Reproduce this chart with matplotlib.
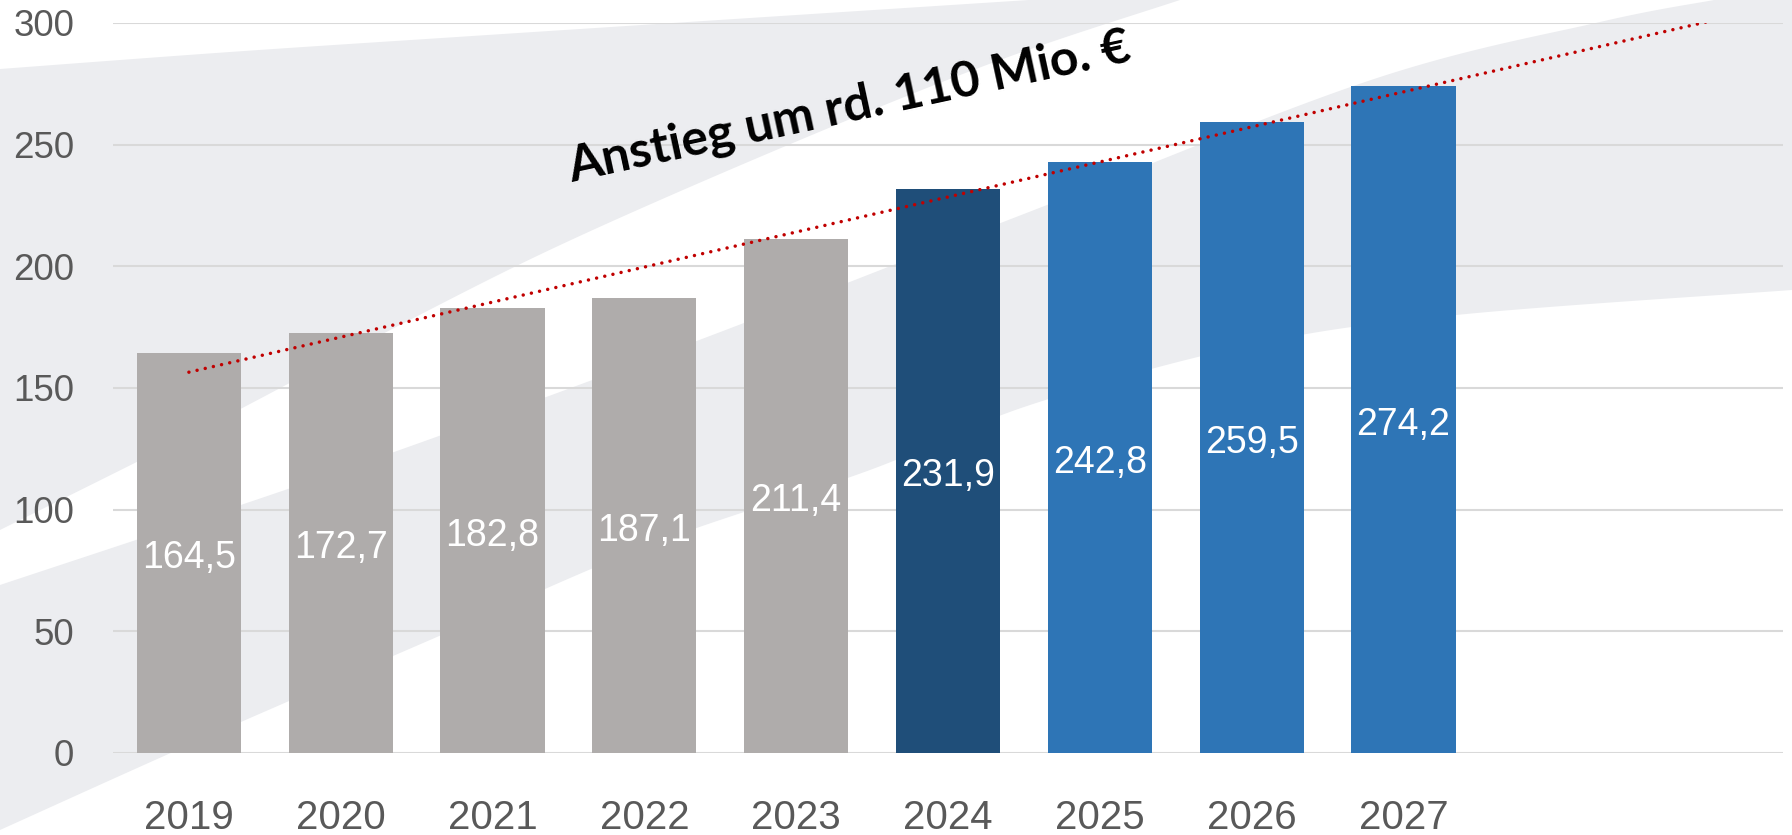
import numpy as np
import matplotlib
matplotlib.use("Agg")
import matplotlib.pyplot as plt
from matplotlib.patches import Polygon

# ---------------- data ----------------
categories = ["2019", "2020", "2021", "2022", "2023", "2024", "2025", "2026", "2027"]
values = [164.5, 172.7, 182.8, 187.1, 211.4, 231.9, 242.8, 259.5, 274.2]
value_labels = ["164,5", "172,7", "182,8", "187,1", "211,4", "231,9", "242,8", "259,5", "274,2"]
bar_colors = ["#AFACAB"] * 5 + ["#1F4E79"] + ["#2E75B6"] * 3
n_slots = 11                      # axis has room for two more (empty) categories
trend_pos = [0, 10]               # trend line runs from first bar to end of axis
trend_vals = [156.5, 300.5]       # linear trend
yticks = [0, 50, 100, 150, 200, 250, 300]
annotation = "Anstieg um rd. 110 Mio. €"

plt.rcParams["font.family"] = ["Liberation Sans", "DejaVu Sans"]

W, H = 1792, 835
fig = plt.figure(figsize=(W / 100, H / 100), dpi=100)
fig.patch.set_facecolor("white")

# ---------------- decorative background ----------------
bg = fig.add_axes([0, 0, 1, 1], zorder=0)
bg.set_xlim(0, W)
bg.set_ylim(H, 0)
bg.axis("off")

def smooth(pts, n=20):
    pts = np.asarray(pts, float)
    P = np.vstack([pts[0], pts, pts[-1]])
    out = []
    for i in range(1, len(P) - 2):
        p0, p1, p2, p3 = P[i - 1], P[i], P[i + 1], P[i + 2]
        for t in np.linspace(0, 1, n, endpoint=False):
            t2, t3 = t * t, t * t * t
            out.append(0.5 * ((2 * p1) + (-p0 + p2) * t + (2 * p0 - 5 * p1 + 4 * p2 - p3) * t2
                              + (-p0 + 3 * p1 - 3 * p2 + p3) * t3))
    out.append(pts[-1])
    return np.array(out)

grey_bg = "#ECEDF0"
T = smooth([(0, 69), (230, 52), (457, 37), (750, 18), (1029, 0)])
U = smooth([(0, 530), (200, 430), (400, 325), (571, 240), (800, 140), (1000, 60), (1180, 0)])
L1 = smooth([(0, 585), (343, 470), (686, 345), (1029, 212), (1371, 80), (1600, 22), (1714, 0)])
L2 = smooth([(0, 830), (200, 740), (430, 640), (650, 545), (870, 470), (1030, 405),
             (1250, 345), (1456, 315), (1792, 290)])

polyA = np.vstack([T, [(1180, 0)], U[::-1]])
bg.add_patch(Polygon(polyA, closed=True, facecolor=grey_bg, edgecolor="none"))
polyB = np.vstack([L1, [(W, 0)], L2[::-1]])
bg.add_patch(Polygon(polyB, closed=True, facecolor=grey_bg, edgecolor="none"))

# ---------------- main chart ----------------
left, right = 113 / W, 1783 / W
bottom, top = 1 - 753 / H, 1 - 23 / H
ax = fig.add_axes([left, bottom, right - left, top - bottom], zorder=1)
ax.patch.set_alpha(0)

x = np.arange(len(categories))
ax.bar(x, values, width=0.686, color=bar_colors, zorder=3)

for xi, v, lab in zip(x, values, value_labels):
    ax.annotate(lab, xy=(xi, v / 2), xytext=(0, -4), textcoords="offset points",
                ha="center", va="center", color="white", fontsize=27, zorder=5)

line, = ax.plot(trend_pos, trend_vals, color="#C00000", lw=2.5,
                ls=(0, (0.01, 2.4)), zorder=4)
line.set_dash_capstyle("round")

ax.set_xlim(-0.5, n_slots - 0.5)
ax.set_ylim(0, 300)
ax.set_yticks(yticks)
ax.set_xticks(x)
ax.set_xticklabels(categories)
ax.tick_params(axis="y", length=0, pad=28, labelsize=26.5, labelcolor="#595959")
ax.tick_params(axis="x", length=0, pad=33, labelsize=29, labelcolor="#595959")
ax.yaxis.grid(True, color="#D9D9D9", lw=1.5, zorder=0)
ax.set_axisbelow(True)
for s in ax.spines.values():
    s.set_visible(False)

ax.text(2.517, 234.7, annotation, rotation=12.2, rotation_mode="anchor",
        ha="left", va="baseline", fontsize=36, fontweight="bold",
        family=["Lato", "DejaVu Sans"], color="black", zorder=6)

fig.savefig("out.png", dpi=100)
